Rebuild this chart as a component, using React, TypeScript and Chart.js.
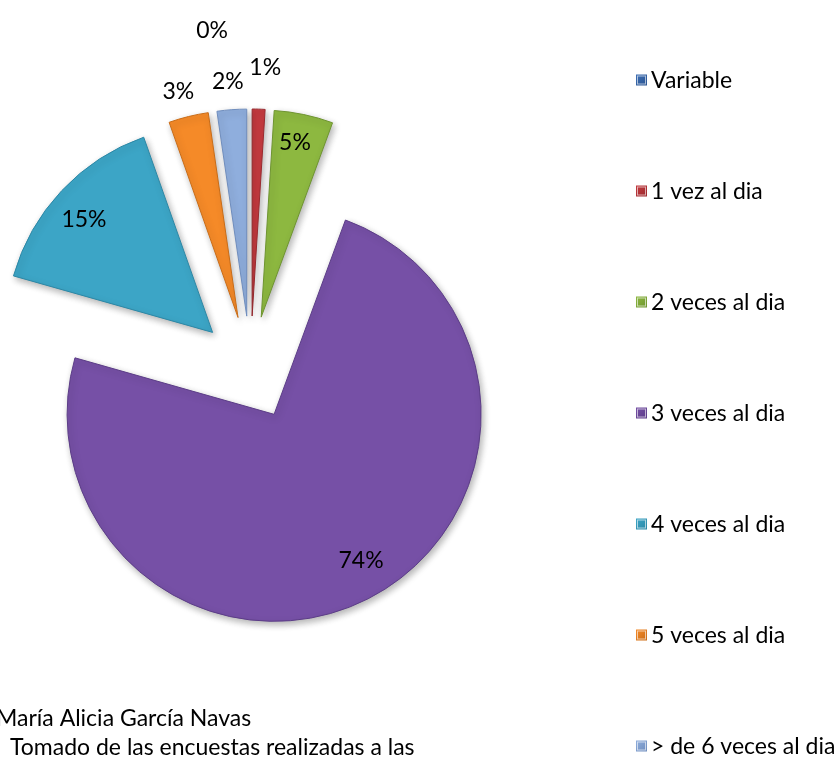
import React, { useEffect, useRef } from "react";
import { Chart, registerables } from "chart.js";

Chart.register(...registerables);

// ---- data ----
const categories = [
  "Variable",
  "1 vez al dia",
  "2 veces al dia",
  "3 veces al dia",
  "4 veces al dia",
  "5 veces al dia",
  "> de 6 veces al dia",
];
const percentages = [0, 1.0, 4.6, 73.8, 15.2, 3.1, 2.3];
const footnoteLines = [
  "María Alicia García Navas",
  "Tomado de las encuestas realizadas a las",
];

// ---- style ----
const colors = ["#3C6EB4", "#C43A3F", "#8DB840", "#7650A6", "#3CA5C6", "#F58A28", "#8FAEDD"];
const borderColors = ["#2D5591", "#9A2A2F", "#6E9430", "#5C3D87", "#2C87A5", "#C96C17", "#6F8DBD"];
const FONT = "Lato, 'Open Sans', sans-serif";
const FONT_SIZE = 23;
const PIE_RADIUS = 207;
const EXPLODE = 52;
// label distance (fraction of radius, beyond the explode offset) and angular nudge (deg)
const LABEL_RADIUS = [1.39, 1.2, 0.857, 0.823, 0.828, 1.127, 1.135];
const LABEL_NUDGE = [-6.5, 1, -0.7, -2.8, -1.4, -0.8, -0.4];
const LEGEND_MARKER_X = 636;
const LEGEND_TEXT_X = 651;
const LEGEND_Y0 = 80;
const LEGEND_GAP = 111;

const explodePlugin = {
  id: "explode",
  beforeDatasetDraw(chart: any, args: any) {
    const ctx = chart.ctx as CanvasRenderingContext2D;
    const meta = args.meta;
    meta.data.forEach((arc: any) => {
      const p = arc.getProps(["startAngle", "endAngle"], true);
      const mid = (p.startAngle + p.endAngle) / 2;
      ctx.save();
      ctx.translate(Math.cos(mid) * EXPLODE, Math.sin(mid) * EXPLODE);
      ctx.shadowColor = "rgba(0,0,0,0.30)";
      ctx.shadowBlur = 7;
      ctx.shadowOffsetX = 2;
      ctx.shadowOffsetY = 3;
      arc.draw(ctx, chart.chartArea);
      ctx.restore();
    });
    return false;
  },
};

const labelsPlugin = {
  id: "pctLabels",
  afterDatasetsDraw(chart: any) {
    const ctx = chart.ctx as CanvasRenderingContext2D;
    const meta = chart.getDatasetMeta(0);
    ctx.save();
    ctx.font = `${FONT_SIZE}px ${FONT}`;
    ctx.fillStyle = "#000";
    ctx.textAlign = "center";
    ctx.textBaseline = "middle";
    meta.data.forEach((arc: any, i: number) => {
      const p = arc.getProps(["x", "y", "startAngle", "endAngle", "outerRadius"], true);
      const mid = (p.startAngle + p.endAngle) / 2 + (LABEL_NUDGE[i] * Math.PI) / 180;
      const d = EXPLODE + LABEL_RADIUS[i] * p.outerRadius;
      const txt = Math.round(percentages[i]) + "%";
      ctx.fillText(txt, p.x + Math.cos(mid) * d, p.y + Math.sin(mid) * d);
    });
    ctx.restore();
  },
};

const legendPlugin = {
  id: "sideLegend",
  afterDraw(chart: any) {
    const ctx = chart.ctx as CanvasRenderingContext2D;
    ctx.save();
    ctx.font = `${FONT_SIZE}px ${FONT}`;
    ctx.textBaseline = "middle";
    ctx.textAlign = "left";
    categories.forEach((name, i) => {
      const y = LEGEND_Y0 + i * LEGEND_GAP;
      const s = 11;
      const g = ctx.createLinearGradient(LEGEND_MARKER_X, y - s / 2, LEGEND_MARKER_X + s, y + s / 2);
      g.addColorStop(0, colors[i]);
      g.addColorStop(1, borderColors[i]);
      ctx.fillStyle = g;
      ctx.fillRect(LEGEND_MARKER_X, y - s / 2, s, s);
      ctx.strokeStyle = "rgba(255,255,255,0.6)";
      ctx.lineWidth = 1;
      ctx.strokeRect(LEGEND_MARKER_X + 1.5, y - s / 2 + 1.5, s - 3, s - 3);
      ctx.fillStyle = "#000";
      ctx.fillText(name, LEGEND_TEXT_X, y + 1);
    });
    ctx.textBaseline = "alphabetic";
    ctx.fillText(footnoteLines[0], -4, 726);
    ctx.fillText(footnoteLines[1], 10, 755);
    ctx.restore();
  },
};

export default function App() {
  const ref = useRef<HTMLCanvasElement>(null);
  useEffect(() => {
    const canvas = ref.current;
    if (!canvas) return;
    const chart = new Chart(canvas, {
      type: "pie",
      data: {
        labels: categories,
        datasets: [
          {
            data: percentages,
            backgroundColor: colors,
            borderColor: borderColors,
            borderWidth: 1,
            radius: PIE_RADIUS,
            offset: 0,
            hoverOffset: 0,
          } as any,
        ],
      },
      options: {
        responsive: false,
        animation: false,
        events: [],
        layout: { padding: { left: 20, right: 359, top: 137.5, bottom: 165.5 } },
        plugins: { legend: { display: false }, tooltip: { enabled: false } },
      },
      plugins: [explodePlugin, labelsPlugin, legendPlugin],
    });
    return () => chart.destroy();
  }, []);
  return (
    <div style={{ position: "fixed", left: 0, top: 0, width: 840, height: 764, background: "#fff" }}>
      <canvas ref={ref} width={840} height={764} style={{ display: "block", width: 840, height: 764 }} />
    </div>
  );
}
